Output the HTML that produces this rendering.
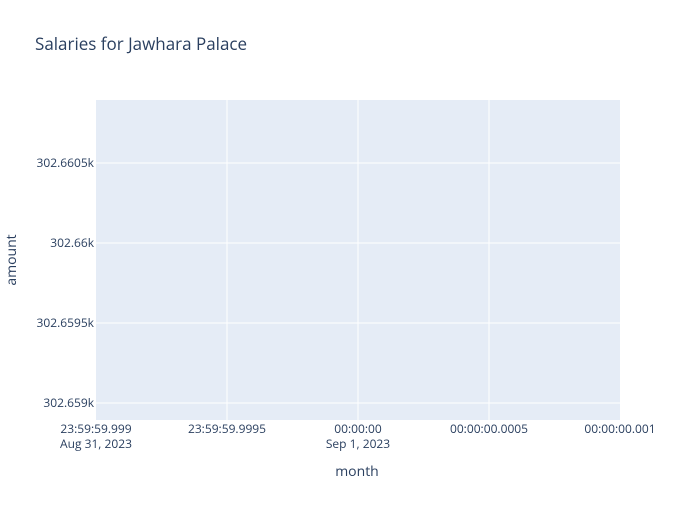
<!DOCTYPE html>
<html><head><meta charset="utf-8"><style>
body{margin:0;background:#fff;font-family:"Open Sans","Liberation Sans",sans-serif;}
svg text{font-family:"Open Sans","Liberation Sans",sans-serif;}
</style></head><body>
<svg id="chart" width="700" height="500">
<rect x="0" y="0" width="700" height="500" fill="#fff"/>
<text x="35" y="50" font-size="17" fill="#2a3f5f">Salaries for Jawhara Palace</text>
<rect x="96" y="100" width="524" height="320" fill="#e5ecf6"/>
<g id="grid"></g>
<g id="xticks"></g>
<g id="yticks"></g>
<g id="series"></g>
<text x="357" y="476" font-size="14" fill="#2a3f5f" text-anchor="middle">month</text>
<text x="0" y="0" font-size="14" fill="#2a3f5f" text-anchor="middle" transform="translate(16,260) rotate(-90)">amount</text>
</svg>
<script>
const xTickVals = [-0.001, -0.0005, 0, 0.0005, 0.001];
const xTickLabels1 = ["23:59:59.999", "23:59:59.9995", "00:00:00", "00:00:00.0005", "00:00:00.001"];
const xTickLabels2 = ["Aug 31, 2023", "", "Sep 1, 2023", "", ""];
const yTickVals = [302659, 302659.5, 302660, 302660.5];
const yTickLabels = ["302.659k", "302.6595k", "302.66k", "302.6605k"];
const xValues = [0];
const yValues = [302660];

const NS = "http://www.w3.org/2000/svg";
const X0 = 96, X1 = 620, Y0 = 100, Y1 = 420;
const xMin = -0.001, xMax = 0.001;
const yMin = 302658.89375, yMax = 302660.89375;
const xs = v => X0 + (v - xMin) / (xMax - xMin) * (X1 - X0);
const ys = v => Y1 - (v - yMin) / (yMax - yMin) * (Y1 - Y0);
function mk(tag, attrs, parent) {
  const e = document.createElementNS(NS, tag);
  for (const k in attrs) e.setAttribute(k, attrs[k]);
  parent.appendChild(e);
  return e;
}
const grid = document.getElementById("grid");
const xt = document.getElementById("xticks");
const yt = document.getElementById("yticks");
xTickVals.forEach((v, i) => {
  const x = xs(v);
  if (i > 0 && i < xTickVals.length - 1) {
    const l = mk("line", {x1: x, x2: x, y1: Y0, y2: Y1, stroke: "#fff", "stroke-width": 1}, grid);
    
    
  }
  const t = mk("text", {x: x, y: 433, "font-size": 12, fill: "#2a3f5f", "text-anchor": "middle"}, xt);
  
  
  t.textContent = xTickLabels1[i];
  if (xTickLabels2[i]) {
    const t2 = mk("text", {x: x, y: 448, "font-size": 12, fill: "#2a3f5f", "text-anchor": "middle"}, xt);
    
    
    t2.textContent = xTickLabels2[i];
  }
});
yTickVals.forEach((v, i) => {
  const y = ys(v);
  if (y < Y0 || y > Y1) return;
  const l = mk("line", {x1: X0, x2: X1, y1: y, y2: y, stroke: "#fff", "stroke-width": 1}, grid);
  
  
  const t = mk("text", {x: 94, y: y + 4, "font-size": 12, fill: "#2a3f5f", "text-anchor": "end"}, yt);
  
  
  t.textContent = yTickLabels[i];
});
const series = document.getElementById("series");
const d = xValues.map((v, i) => (i ? "L" : "M") + xs(v) + "," + ys(yValues[i])).join("");
const p = mk("path", {d: d, fill: "none", stroke: "#636efa", "stroke-width": 2}, series);


</script>
</body></html>
